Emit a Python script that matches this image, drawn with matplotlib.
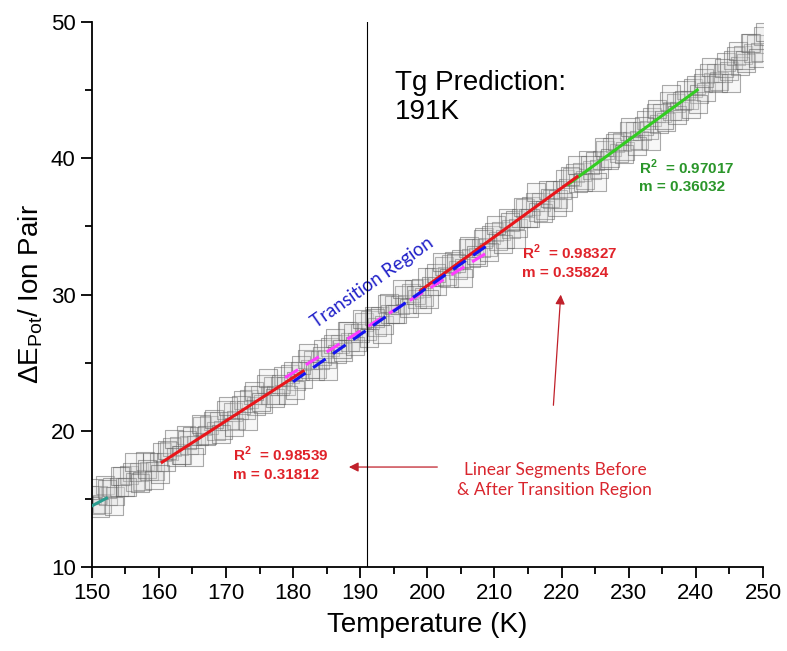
import numpy as np
import matplotlib
matplotlib.use("Agg")
from matplotlib import pyplot as plt
from matplotlib.ticker import MultipleLocator

# temperatura (K) y energia potencial por par ionico
temperatura = np.arange(150.0, 250.5, 0.5)
energia = [
    15.3, 14.55, 15.3, 14.6, 16.0, 15.25, 15.9, 15.25, 15.9, 16.65,
    15.9, 16.75, 17.0, 16.25, 17.0, 16.35, 17.8, 17.05, 17.7, 17.05,
    17.7, 18.45, 17.7, 18.55, 18.8, 18.1, 18.9, 18.25, 19.7, 18.95,
    19.6, 18.95, 19.6, 20.35, 19.6, 20.45, 20.7, 19.95, 20.7, 20.05,
    21.5, 20.75, 21.4, 20.8, 21.5, 22.25, 21.5, 22.35, 22.6, 21.85,
    22.6, 21.95, 23.4, 22.65, 23.3, 22.65, 23.3, 24.05, 23.3, 24.15,
    24.4, 23.65, 24.4, 23.8, 25.3, 24.55, 25.2, 24.55, 25.2, 26.0,
    25.3, 26.15, 26.4, 25.65, 26.4, 25.8, 27.3, 26.55, 27.2, 26.55,
    27.2, 28.0, 27.3, 28.15, 28.4, 27.65, 28.4, 27.8, 29.3, 28.55,
    29.2, 28.55, 29.2, 30.0, 29.3, 30.15, 30.4, 29.7, 30.5, 29.85,
    31.3, 30.6, 31.3, 30.65, 31.3, 32.1, 31.4, 32.25, 32.5, 31.8,
    32.6, 31.95, 33.4, 32.7, 33.4, 32.75, 33.4, 34.2, 33.5, 34.35,
    34.6, 33.9, 34.7, 34.1, 35.6, 34.85, 35.5, 34.9, 35.6, 36.35,
    35.6, 36.5, 36.8, 36.05, 36.8, 36.2, 37.7, 37.0, 37.7, 37.05,
    37.7, 38.5, 37.8, 38.65, 38.9, 38.2, 39.0, 38.4, 39.9, 39.15,
    39.8, 39.2, 39.9, 40.65, 39.9, 40.8, 41.1, 40.4, 41.2, 40.55,
    42.0, 41.3, 42.0, 41.35, 42.0, 42.8, 42.1, 43.0, 43.3, 42.55,
    43.3, 42.7, 44.2, 43.45, 44.1, 43.5, 44.2, 45.0, 44.3, 45.15,
    45.4, 44.7, 45.5, 44.85, 46.3, 45.6, 46.3, 45.65, 46.3, 47.1,
    46.4, 47.25, 47.5, 46.8, 47.6, 47.0, 48.5, 47.75, 48.4, 47.8,
    49.0,
]

# segunda tanda de puntos (mas dispersos)
temperatura_b = np.arange(150.25, 250.5, 1.0)
energia_b = [
    15.8, 14.3, 15.7, 14.5, 16.7, 15.9, 17.7, 16.2, 17.2, 16.4,
    16.8, 18.6, 19.4, 18.2, 19.3, 18.1, 20.5, 19.7, 20.9, 19.8,
    21.8, 20.3, 21.9, 20.7, 22.9, 22.1, 23.9, 22.4, 23.4, 22.6,
    23.0, 24.8, 25.7, 24.4, 25.5, 24.4, 26.8, 26.0, 27.3, 26.2,
    28.2, 26.8, 28.3, 27.1, 29.4, 28.6, 30.4, 29.0, 30.0, 29.3,
    29.7, 31.6, 32.4, 31.2, 32.3, 31.2, 33.6, 32.9, 34.1, 33.1,
    35.1, 33.7, 35.3, 34.1, 36.4, 35.6, 37.5, 36.0, 37.1, 36.4,
    36.8, 38.7, 39.5, 38.3, 39.5, 38.3, 40.8, 40.0, 41.3, 40.3,
    42.3, 40.9, 42.4, 41.3, 43.6, 42.8, 44.7, 43.2, 44.3, 43.6,
    44.0, 45.9, 46.7, 45.5, 46.6, 45.5, 47.9, 47.2, 48.5, 47.4,
    49.3,
]

# ajustes lineales: inicio, fin, pendiente, valor inicial
ajuste_inicio = [147.0, 160.5, 178.8, 180.0, 199.0, 221.0]
ajuste_fin = [152.2, 181.5, 209.0, 209.5, 222.3, 240.2]
ajuste_pendiente = [0.26, 0.31812, 0.305, 0.346, 0.35824, 0.36032]
ajuste_e0 = [13.7, 17.7, 23.9, 23.6, 30.3, 38.1]
ajuste_color = ["#2a9d8f", "#e8161b", "#ff3cff", "#1414f0", "#e8161b", "#33cc22"]
ajuste_estilo = ["-", "-", (0, (5, 3)), (0, (5, 3)), "-", "-"]
ajuste_orden = [3, 3, 4, 5, 3, 2]

tg = 191

plt.rcParams['font.family'] = ['Liberation Sans', 'DejaVu Sans']

fig = plt.figure(figsize=(7.87, 6.51), dpi=100)
ax = fig.add_axes([0.1165, 0.129, 0.8530, 0.837])

for tt, ee in [(temperatura, energia), (temperatura_b, energia_b)]:
    ax.scatter(tt, ee, marker='s', s=160,
               facecolors=(0.85, 0.85, 0.85, 0.2),
               edgecolors=(0.35, 0.35, 0.35, 0.5), linewidths=0.8, zorder=2)

for t0, t1, m, e0, c, ls, z in zip(ajuste_inicio, ajuste_fin, ajuste_pendiente,
                                   ajuste_e0, ajuste_color, ajuste_estilo, ajuste_orden):
    tt = np.array([t0, t1])
    ax.plot(tt, e0 + m * (tt - t0), color=c, lw=2.2, linestyle=ls, zorder=z)

ax.axvline(tg, color='black', lw=0.8, zorder=6)

ax.set_xlim(150, 250)
ax.set_ylim(10, 50)
ax.xaxis.set_major_locator(MultipleLocator(10))
ax.xaxis.set_minor_locator(MultipleLocator(5))
ax.yaxis.set_major_locator(MultipleLocator(10))
ax.yaxis.set_minor_locator(MultipleLocator(5))
ax.tick_params(which='major', direction='out', length=8, width=1.3, labelsize=16)
ax.tick_params(which='minor', direction='out', length=5, width=1.3)
ax.spines['top'].set_visible(False)
ax.spines['right'].set_visible(False)
ax.spines['left'].set_linewidth(1.3)
ax.spines['bottom'].set_linewidth(1.3)

ax.set_xlabel("Temperature (K)", fontsize=20, labelpad=6)
ax.set_ylabel("ΔE$_{\\mathregular{Pot}}$/ Ion Pair", fontsize=20, labelpad=4)

ax.text(195.2, 44.5, "Tg Prediction:\n191K", fontsize=20, ha='left', va='center',
        linespacing=1.15)

ax.text(171.1, 17.6, "R$^\\mathregular{2}$  = 0.98539\nm = 0.31812", color='#e0232a',
        fontsize=11, fontweight='bold', ha='left', va='center', linespacing=1.3)
ax.text(214.1, 32.45, "R$^\\mathregular{2}$  = 0.98327\nm = 0.35824", color='#e0232a',
        fontsize=11, fontweight='bold', ha='left', va='center', linespacing=1.3)
ax.text(231.5, 38.7, "R$^\\mathregular{2}$  = 0.97017\nm = 0.36032", color='#2a962a',
        fontsize=11, fontweight='bold', ha='left', va='center', linespacing=1.3)

ax.text(191.8, 30.9, "Transition Region", color='#2020c8', fontsize=13.5,
        family=['Lato', 'DejaVu Sans'], rotation=35, ha='center', va='center',
        rotation_mode='anchor')

ax.text(219.0, 16.4, "Linear Segments Before\n& After Transition Region",
        color='#d9262e', fontsize=12.5, family=['Lato', 'DejaVu Sans'],
        ha='center', va='center', linespacing=1.35)

flecha = dict(arrowstyle='-|>', color='#c0202a', lw=0.9, mutation_scale=14)
ax.annotate("", xy=(187.9, 17.34), xytext=(201.9, 17.34), arrowprops=flecha)
ax.annotate("", xy=(219.9, 30.2), xytext=(218.75, 21.67), arrowprops=flecha)

fig.savefig("out.png", dpi=100)
